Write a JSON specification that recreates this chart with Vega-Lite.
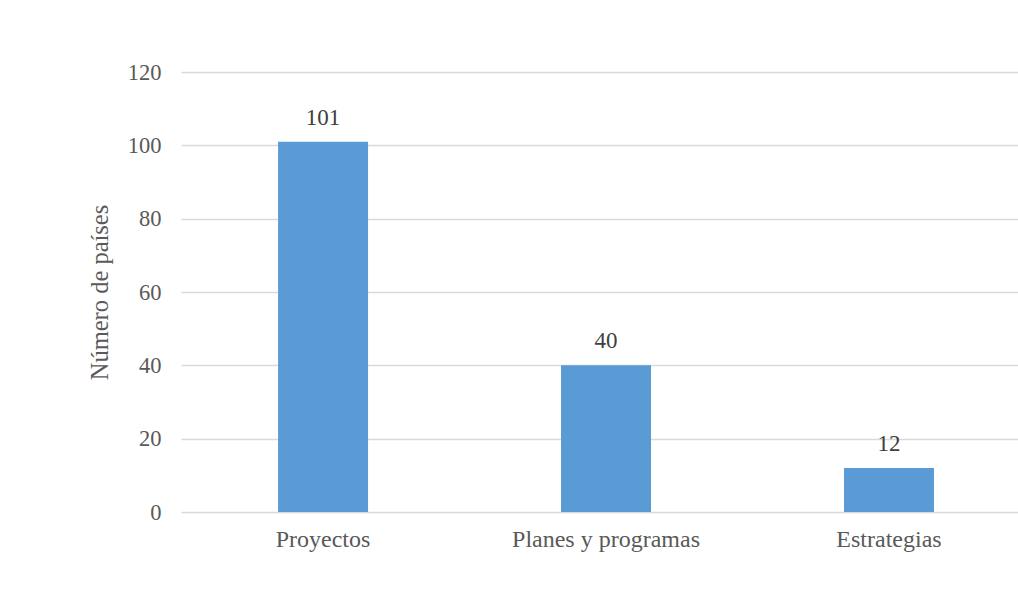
{
  "$schema": "https://vega.github.io/schema/vega-lite/v6.json",
  "autosize": "none",
  "width": 837,
  "height": 440,
  "padding": {"left": 181, "top": 72, "right": 0, "bottom": 97},
  "background": "white",
  "config": {
    "view": {"stroke": null},
    "font": "Liberation Serif"
  },
  "data": {
    "values": [
      {"categoria": "Proyectos", "paises": 101},
      {"categoria": "Planes y programas", "paises": 40},
      {"categoria": "Estrategias", "paises": 12}
    ]
  },
  "encoding": {
    "x": {
      "field": "categoria",
      "type": "nominal",
      "sort": null,
      "scale": {"paddingInner": 0.682, "paddingOuter": 0.32, "align": 0.536},
      "axis": {
        "title": null,
        "labelAngle": 0,
        "labelLimit": 0,
        "labelFont": "Liberation Serif",
        "labelFontSize": 24,
        "labelColor": "#595959",
        "labelPadding": 15,
        "domain": false,
        "ticks": false
      }
    },
    "y": {
      "field": "paises",
      "type": "quantitative",
      "scale": {"domain": [0, 120]},
      "axis": {
        "values": [0, 20, 40, 60, 80, 100, 120],
        "title": "Número de países",
        "titleFont": "Liberation Serif",
        "titleFontSize": 24.5,
        "titleFontWeight": "normal",
        "titleColor": "#595959",
        "titlePadding": 15,
        "labelFont": "Liberation Serif",
        "labelFontSize": 22.5,
        "labelColor": "#595959",
        "labelPadding": 20,
        "domain": false,
        "ticks": false,
        "gridColor": "#D9D9D9",
        "gridWidth": 1.3
      }
    }
  },
  "layer": [
    {"mark": {"type": "bar", "color": "#5B9BD5"}},
    {
      "mark": {"type": "text", "baseline": "bottom", "dy": -12, "font": "Liberation Serif", "fontSize": 23, "color": "#404040"},
      "encoding": {"text": {"field": "paises", "type": "quantitative"}}
    }
  ]
}
